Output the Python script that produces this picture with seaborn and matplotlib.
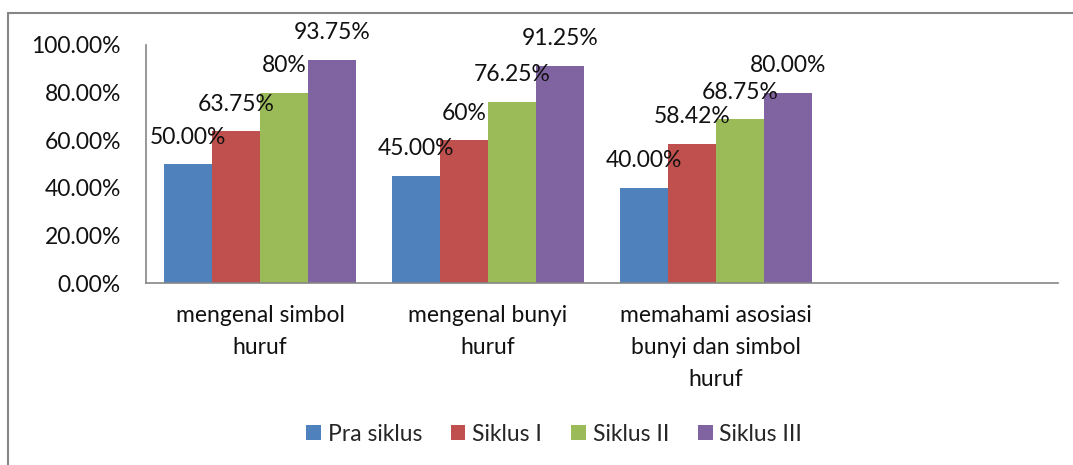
import numpy as np
import pandas as pd
import matplotlib
matplotlib.use("Agg")
import matplotlib.pyplot as plt
import seaborn as sns
from matplotlib.patches import Rectangle, Patch

aspek = [
    "mengenal simbol\nhuruf",
    "mengenal bunyi\nhuruf",
    "memahami asosiasi\nbunyi dan simbol\nhuruf",
]
siklus = ["Pra siklus", "Siklus I", "Siklus II", "Siklus III"]

pra_siklus = [50.00, 45.00, 40.00]
siklus_1 = [63.75, 60.00, 58.42]
siklus_2 = [80.00, 76.25, 68.75]
siklus_3 = [93.75, 91.25, 80.00]

label_pra = ["50.00%", "45.00%", "40.00%"]
label_1 = ["63.75%", "60%", "58.42%"]
label_2 = ["80%", "76.25%", "68.75%"]
label_3 = ["93.75%", "91.25%", "80.00%"]

colors = ["#4F81BD", "#C0504D", "#9BBB59", "#8064A2"]
yticks = [0, 20, 40, 60, 80, 100]

sns.set_style("white")
plt.rcParams["font.family"] = ["Lato", "DejaVu Sans"]
FS = 16.5

df = pd.DataFrame({
    "aspek": aspek * 4,
    "siklus": np.repeat(siklus, 3),
    "nilai": pra_siklus + siklus_1 + siklus_2 + siklus_3,
})
labels = [label_pra, label_1, label_2, label_3]

fig = plt.figure(figsize=(10.73, 4.65), dpi=100)
W, H = 1073, 465
ax = fig.add_axes([146 / W, 1 - 283 / H, 912 / W, 238 / H])

sns.barplot(
    data=df, x="aspek", y="nilai", hue="siklus", order=aspek,
    hue_order=siklus, palette=colors, width=0.84, saturation=1,
    linewidth=0, legend=False, ax=ax,
)

for cont, labs in zip(ax.containers, labels):
    for bar, lab in zip(cont, labs):
        ax.annotate(
            lab, (bar.get_x() + bar.get_width() / 2, bar.get_height()),
            xytext=(0, 27 * 72 / 100), textcoords="offset points",
            ha="center", va="center", fontsize=FS, color="#111111",
            annotation_clip=False,
        )

ax.set_xlim(-0.5, 3.5)
ax.set_ylim(0, 100)
ax.set_yticks(yticks)
ax.set_yticklabels([f"{v:.2f}%" for v in yticks])
ax.set_xlabel("")
ax.set_ylabel("")
ax.tick_params(axis="both", length=0, labelsize=FS, colors="#111111")
ax.tick_params(axis="y", pad=18)
ax.tick_params(axis="x", pad=16)
for lab in ax.get_xticklabels():
    lab.set_linespacing(1.65)

for s in ["top", "right"]:
    ax.spines[s].set_visible(False)
for s in ["left", "bottom"]:
    ax.spines[s].set_color("#868686")
    ax.spines[s].set_linewidth(1.2)

handles = [Patch(facecolor=c, edgecolor="none") for c in colors]
fig.legend(
    handles, siklus, loc="center", bbox_to_anchor=(554 / W, 1 - 434 / H),
    ncol=4, frameon=False, fontsize=FS, handlelength=0.65, handleheight=0.65,
    handletextpad=0.3, columnspacing=1.25,
)

fig.patches.append(Rectangle(
    (8 / W, -0.1), 1.2, 1 - 13 / H + 0.1, transform=fig.transFigure,
    fill=False, edgecolor="#868686", linewidth=1.5,
))

fig.savefig("out.png", dpi=100)
